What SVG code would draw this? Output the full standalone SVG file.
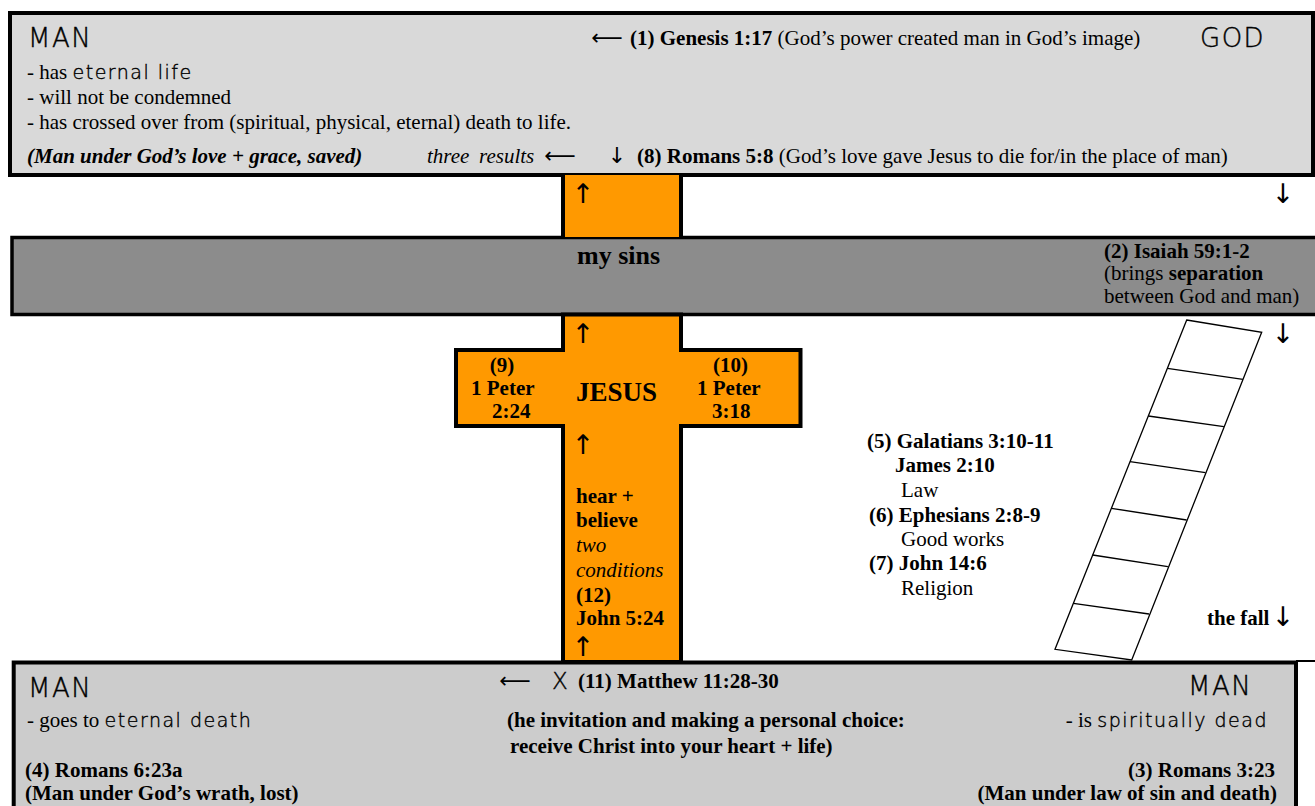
<svg xmlns="http://www.w3.org/2000/svg" width="1315" height="806" viewBox="0 0 1315 806">
<style>
.s{font-family:"Liberation Serif","Times New Roman",serif;font-size:21px;fill:#000}
.b{font-weight:bold}
.i{font-style:italic}
.g{font-family:"DejaVu Sans","Liberation Sans",sans-serif;font-weight:200;letter-spacing:1.5px;font-size:19px;stroke:#000;stroke-width:0.4px}
.big{font-size:26px;letter-spacing:1.5px}
.ar{font-family:"DejaVu Sans",sans-serif;font-size:22px;fill:#000}
.va{font-family:"DejaVu Sans",sans-serif;font-size:27px;fill:#000}
.box{stroke:#000;stroke-width:4}
</style>
<rect width="1315" height="806" fill="#fff"/>

<g id="god-realm">
<rect class="box" x="10" y="13" width="1303" height="162" fill="#d9d9d9"/>
<text class="s g big" x="28" y="47">MAN</text>
<text class="s" x="27" y="79">- has <tspan class="g">eternal life</tspan></text>
<text class="s" x="27" y="104">- will not be condemned</text>
<text class="s" x="27" y="129">- has crossed over from (spiritual, physical, eternal) death to life.</text>
<text class="s b i" x="27" y="163">(Man under God’s love + grace, saved)</text>
<text class="s i" x="427" y="163">three</text>
<text class="s i" x="479" y="163">results</text>
<text class="s" x="637" y="163"><tspan class="b">(8) Romans 5:8</tspan> (God’s love gave Jesus to die for/in the place of man)</text>
<text class="s" x="630" y="45"><tspan class="b">(1) Genesis 1:17</tspan> (God’s power created man in God’s image)</text>
<text class="s g big" x="1200" y="47">GOD</text>
</g>

<g id="sins-band">
<rect class="box" x="12" y="237.5" width="1310" height="77" fill="#8c8c8c" style="stroke-width:3.5px"/>
<text class="s b" x="577" y="264" style="font-size:26px">my sins</text>
<text class="s b" x="1104" y="258">(2) Isaiah 59:1-2</text>
<text class="s" x="1104" y="280">(brings <tspan class="b">separation</tspan></text>
<text class="s" x="1104" y="303">between God and man)</text>
</g>

<g id="upper-stem">
<rect x="563" y="175" width="118" height="62" fill="#ff9900" stroke="none"/>
<line x1="563" y1="175" x2="563" y2="237" stroke="#000" stroke-width="4"/>
<line x1="681" y1="175" x2="681" y2="237" stroke="#000" stroke-width="4"/>
</g>

<g id="cross">
<path d="M563,314.5 V350 H456 V426 H563 V662 H681 V426 H800.5 V350 H681 V314.5 Z" fill="#ff9900" stroke="#000" stroke-width="4"/>
<text class="s b" x="502" y="372" text-anchor="middle">(9)</text>
<text class="s b" x="471" y="395">1 Peter</text>
<text class="s b" x="492" y="418">2:24</text>
<text class="s b" x="576" y="401" style="font-size:27px">JESUS</text>
<text class="s b" x="713" y="372">(10)</text>
<text class="s b" x="697" y="395">1 Peter</text>
<text class="s b" x="712" y="418">3:18</text>
<text class="s b" x="576" y="503">hear +</text>
<text class="s b" x="576" y="527">believe</text>
<text class="s i" x="576" y="552">two</text>
<text class="s i" x="576" y="577">conditions</text>
<text class="s b" x="576" y="602">(12)</text>
<text class="s b" x="576" y="625">John 5:24</text>
</g>

<g id="ladder" fill="none" stroke="#000" stroke-width="1.3">
<polygon points="1186.7,320 1261.7,332.3 1131.7,660 1055,649.3" fill="#fff"/>
<line x1="1167.4" y1="368.3" x2="1242.9" y2="379.3"/>
<line x1="1148.3" y1="416" x2="1223.9" y2="426.7"/>
<line x1="1130" y1="461.7" x2="1205.5" y2="472.7"/>
<line x1="1111.4" y1="508.3" x2="1186.6" y2="520"/>
<line x1="1092.7" y1="555" x2="1167.9" y2="566.7"/>
<line x1="1073.4" y1="603.3" x2="1149" y2="614"/>
</g>

<g id="ways">
<text class="s b" x="867" y="448">(5) Galatians 3:10-11</text>
<text class="s b" x="895" y="472">James 2:10</text>
<text class="s" x="901" y="497">Law</text>
<text class="s b" x="869" y="522">(6) Ephesians 2:8-9</text>
<text class="s" x="901" y="546">Good works</text>
<text class="s b" x="869" y="570">(7) John 14:6</text>
<text class="s" x="901" y="595">Religion</text>
<text class="s b" x="1207" y="625">the fall</text>
</g>

<g id="lost-realm">
<rect class="box" x="13.7" y="662.5" width="1282.3" height="160" fill="#cccccc"/>
<line x1="1296" y1="661" x2="1315" y2="661" stroke="#000" stroke-width="2"/>
<text class="s g big" x="28" y="697">MAN</text>
<text class="s" x="27" y="727">- goes to <tspan class="g">eternal death</tspan></text>
<text class="s b" x="25" y="777">(4) Romans 6:23a</text>
<text class="s b" x="25" y="800">(Man under God’s wrath, lost)</text>
<text class="s g" x="552" y="689" style="font-size:23px;letter-spacing:0">X</text>
<text class="s b" x="578" y="688">(11) Matthew 11:28-30</text>
<text class="s b" x="507" y="727">(he invitation and making a personal choice:</text>
<text class="s b" x="510" y="753">receive Christ into your heart + life)</text>
<text class="s g big" x="1188" y="695">MAN</text>
<text class="s" x="1268" y="727" text-anchor="end">- is <tspan class="g">spiritually dead</tspan></text>
<text class="s b" x="1275" y="777" text-anchor="end">(3) Romans 3:23</text>
<text class="s b" x="1277" y="800" text-anchor="end">(Man under law of sin and death)</text>
</g>

<g id="connectors">
<text class="ar" x="607" y="45" text-anchor="middle">⟵</text>
<text class="ar" x="560" y="163" text-anchor="middle">⟵</text>
<text class="ar" x="515" y="688" text-anchor="middle">⟵</text>
<text class="ar" x="617" y="163" text-anchor="middle">↓</text>
<text class="va" x="583" y="203" text-anchor="middle">↑</text>
<text class="va" x="583" y="343" text-anchor="middle">↑</text>
<text class="va" x="583" y="454" text-anchor="middle">↑</text>
<text class="va" x="583" y="656" text-anchor="middle">↑</text>
<text class="va" x="1283" y="203" text-anchor="middle">↓</text>
<text class="va" x="1283" y="343" text-anchor="middle">↓</text>
<text class="va" x="1283" y="626" text-anchor="middle">↓</text>
</g>
</svg>
